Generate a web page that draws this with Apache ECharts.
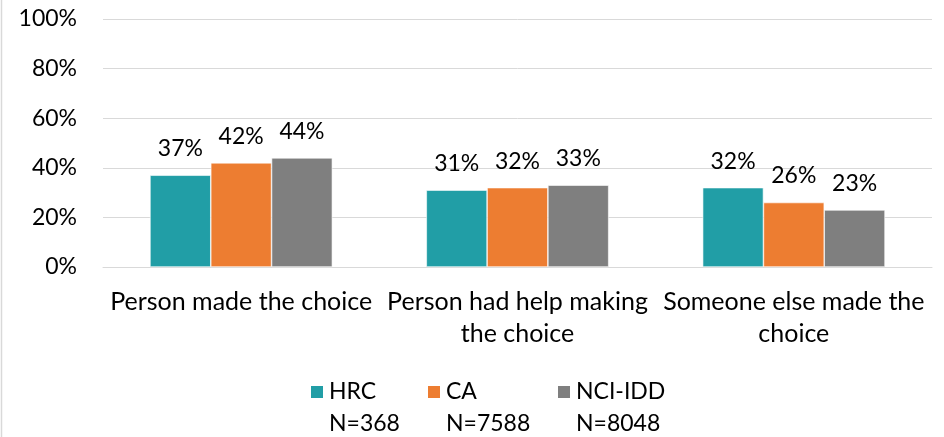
<!DOCTYPE html>
<html>
<head>
<meta charset="utf-8">
<script src="https://cdn.jsdelivr.net/npm/echarts@6/dist/echarts.min.js"></script>
<style>
html,body{margin:0;padding:0;background:#fff;}
#main{width:944px;height:437px;}
</style>
</head>
<body>
<div id="main"></div>
<script>
const categories = ["Person made the choice", "Person had help making\nthe choice", "Someone else made the\nchoice"];
const seriesNames = ["HRC", "CA", "NCI-IDD"];
const sampleSizes = ["N=368", "N=7588", "N=8048"];
const hrcValues = [37, 31, 32];
const caValues = [42, 32, 26];
const nciValues = [44, 33, 23];
const yTicks = [0, 20, 40, 60, 80, 100];
const colors = ["#219EA6", "#ED7D31", "#7F7F7F"];

const FONT = "Lato";
const FS = 23;
const TXT = "#000000";
const valueLists = [hrcValues, caValues, nciValues];
const legendLefts = [309, 426, 556];

const chart = echarts.init(document.getElementById('main'), null, {renderer: 'canvas'});
const option = {
  backgroundColor: '#ffffff',
  animation: false,
  textStyle: {fontFamily: FONT, color: TXT},
  grid: {left: 103, right: 12, top: 19, bottom: 170, containLabel: false},
  legend: seriesNames.map((name, i) => ({
    data: [name],
    left: legendLefts[i],
    top: 344,
    padding: 0,
    itemWidth: 14,
    itemHeight: 14,
    icon: 'rect',
    selectedMode: false,
    formatter: (n) => ' \n' + n + '\n' + sampleSizes[i],
    textStyle: {fontFamily: FONT, fontSize: FS, color: TXT, lineHeight: 32}
  })),
  xAxis: {
    type: 'category',
    data: categories,
    axisLine: {show: true, lineStyle: {color: '#D9D9D9', width: 1}},
    axisTick: {show: false},
    axisLabel: {fontFamily: FONT, fontSize: 25, color: TXT, lineHeight: 32, margin: 19, interval: 0}
  },
  yAxis: {
    type: 'value',
    min: yTicks[0],
    max: yTicks[yTicks.length - 1],
    interval: yTicks[1] - yTicks[0],
    axisLine: {show: false},
    axisTick: {show: false},
    splitLine: {show: true, lineStyle: {color: '#D9D9D9', width: 1}},
    axisLabel: {fontFamily: FONT, fontSize: FS, color: TXT, margin: 26, formatter: (v) => v + '%'}
  },
  series: seriesNames.map((name, i) => ({
    name: name,
    type: 'bar',
    data: valueLists[i],
    barWidth: '22%',
    barGap: '0%',
    itemStyle: {color: colors[i], borderColor: '#ffffff', borderWidth: 0.6},
    label: {
      show: true,
      position: 'top',
      distance: 15,
      fontFamily: FONT,
      fontSize: FS,
      color: TXT,
      formatter: (p) => p.value + '%'
    }
  })),
  graphic: [{
    type: 'line',
    shape: {x1: 1.5, y1: 0, x2: 1.5, y2: 437},
    style: {stroke: '#D9D9D9', lineWidth: 1.5}
  }]
};
chart.setOption(option);
</script>
</body>
</html>
